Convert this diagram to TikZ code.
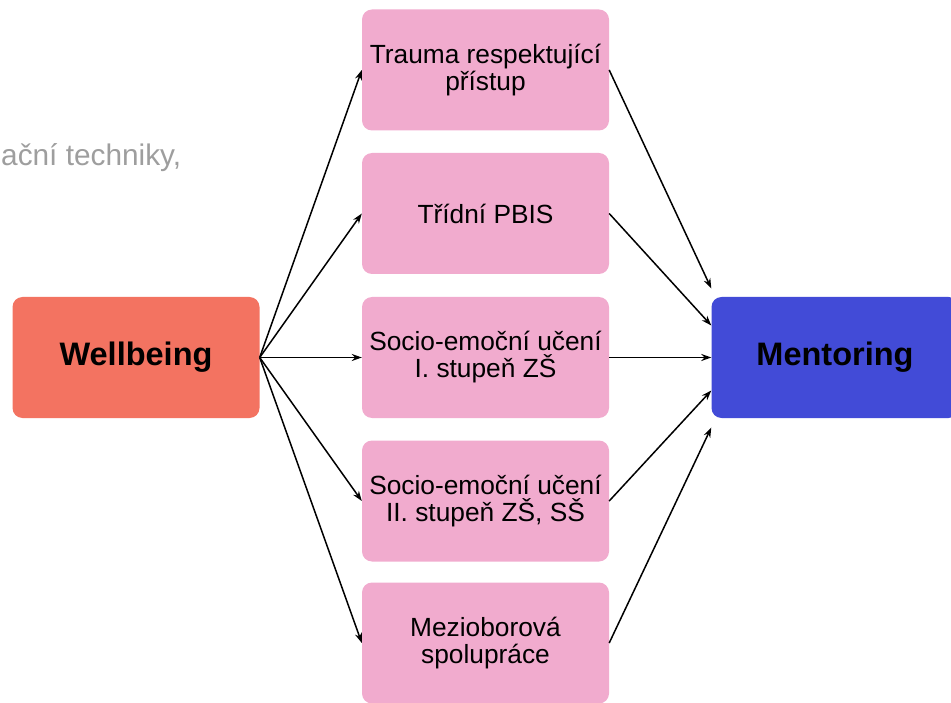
\documentclass[tikz,border=0pt]{standalone}
\usepackage{fontspec}
\setmainfont{Liberation Sans}
\usetikzlibrary{arrows.meta}

\begin{document}
\begin{tikzpicture}[x=1pt,y=-1pt,
  box/.style={rounded corners=10pt, minimum width=247pt, minimum height=121pt, align=center, inner sep=0pt},
  topic/.style={box, fill=pinkbox, font=\fontsize{26.3}{27}\selectfont},
  main/.style={box, font=\fontsize{32.5}{36}\selectfont\bfseries},
  link/.style={-{Stealth[length=10pt,width=7pt]}, line width=1.5pt}]
\definecolor{pinkbox}{HTML}{F1ABCE}
\definecolor{salmon}{HTML}{F37361}
\definecolor{mentorblue}{HTML}{424BD7}
\path[use as bounding box, clip] (0,0) rectangle (951,703);
\node[anchor=base west, inner sep=0pt, text=black!38, font=\fontsize{29.8}{34}\selectfont] (rest) at (1,166) {ační techniky,};
\node[main, fill=salmon] (well) at (136,357.5) {Wellbeing};
\node[main, fill=mentorblue] (ment) at (835,357.5) {Mentoring};
\node[topic] (trauma) at (485.5,70) {Trauma respektující\\přístup};
\node[topic] (pbis) at (485.5,213.5) {Třídní PBIS};
\node[topic] (sel1) at (485.5,357.5) {Socio-emoční učení\\I. stupeň ZŠ};
\node[topic] (sel2) at (485.5,501) {Socio-emoční učení\\II. stupeň ZŠ, SŠ};
\node[topic] (mezi) at (485.5,643) {Mezioborová\\spolupráce};
\coordinate (m1) at ([yshift=69pt]ment.west);
\coordinate (m2) at ([yshift=32pt]ment.west);
\coordinate (m4) at ([yshift=-33pt]ment.west);
\coordinate (m5) at ([yshift=-70pt]ment.west);
\draw[link] (well.east) -- (trauma.west);
\draw[link] (well.east) -- (pbis.west);
\draw[link] (well.east) -- (sel1.west);
\draw[link] (well.east) -- (sel2.west);
\draw[link] (well.east) -- (mezi.west);
\draw[link] (trauma.east) -- (m1);
\draw[link] (pbis.east) -- (m2);
\draw[link] (sel1.east) -- (ment.west);
\draw[link] (sel2.east) -- (m4);
\draw[link] (mezi.east) -- (m5);
\end{tikzpicture}
\end{document}
